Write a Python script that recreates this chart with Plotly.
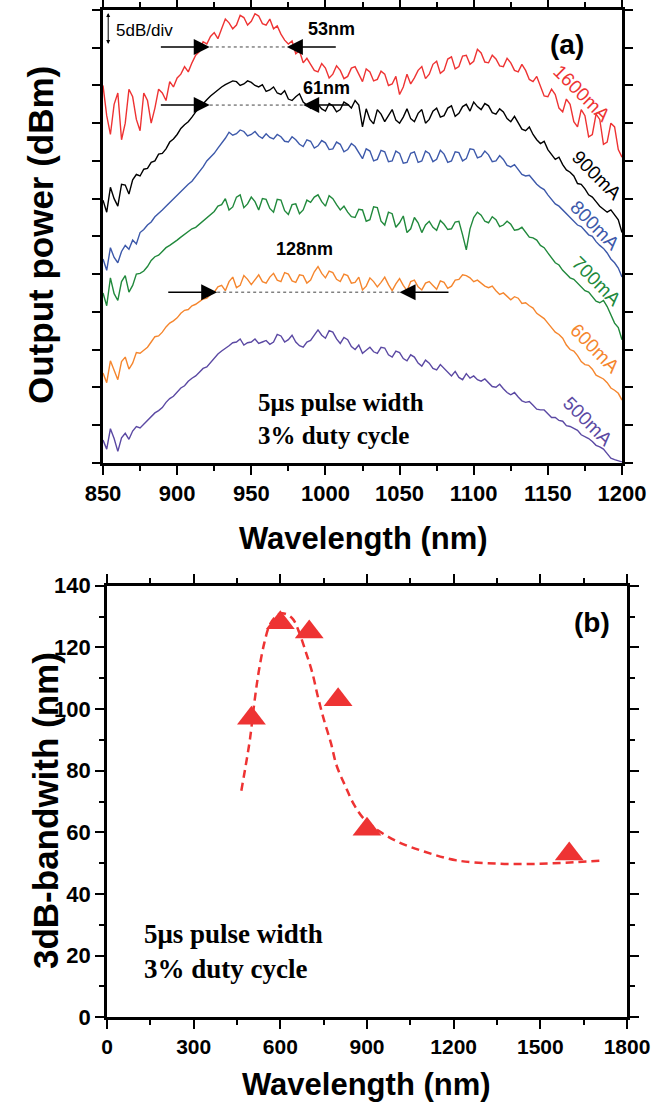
import plotly.graph_objects as go

# ---------------- data: panel (a) spectra (2.5 nm sampling) ----------------
wavelength_nm = [
    850, 852.5, 855, 857.5, 860, 862.5, 865, 867.5, 870, 872.5, 875, 877.5, 880, 882.5, 885, 887.5, 890, 892.5, 895, 897.5,
    900, 902.5, 905, 907.5, 910, 912.5, 915, 917.5, 920, 922.5, 925, 927.5, 930, 932.5, 935, 937.5, 940, 942.5, 945, 947.5,
    950, 952.5, 955, 957.5, 960, 962.5, 965, 967.5, 970, 972.5, 975, 977.5, 980, 982.5, 985, 987.5, 990, 992.5, 995, 997.5,
    1000, 1002.5, 1005, 1007.5, 1010, 1012.5, 1015, 1017.5, 1020, 1022.5, 1025, 1027.5, 1030, 1032.5, 1035, 1037.5, 1040, 1042.5, 1045, 1047.5,
    1050, 1052.5, 1055, 1057.5, 1060, 1062.5, 1065, 1067.5, 1070, 1072.5, 1075, 1077.5, 1080, 1082.5, 1085, 1087.5, 1090, 1092.5, 1095, 1097.5,
    1100, 1102.5, 1105, 1107.5, 1110, 1112.5, 1115, 1117.5, 1120, 1122.5, 1125, 1127.5, 1130, 1132.5, 1135, 1137.5, 1140, 1142.5, 1145, 1147.5,
    1150, 1152.5, 1155, 1157.5, 1160, 1162.5, 1165, 1167.5, 1170, 1172.5, 1175, 1177.5, 1180, 1182.5, 1185, 1187.5, 1190, 1192.5, 1195, 1197.5,
    1200]

p500 = [
    3.0, 1.8, 4.5, 3.2, 1.5, 3.3, 3.9, 3.1, 4.2, 4.8, 4.6, 5.1, 5.5, 6.1, 6.6, 6.9, 7.3, 8.0, 8.5, 8.8,
    9.3, 9.9, 10.2, 10.8, 11.2, 11.5, 12.0, 12.5, 12.7, 13.3, 13.8, 14.4, 14.8, 15.1, 15.5, 15.9, 16.0, 16.4, 15.6, 15.9,
    16.0, 16.4, 15.8, 16.0, 16.2, 15.7, 16.0, 17.0, 16.8, 16.0, 16.3, 16.9, 16.0, 15.5, 15.3, 16.0, 16.2, 16.9, 17.6, 16.9,
    16.5, 17.5, 17.3, 16.4, 15.8, 16.6, 16.3, 15.4, 15.0, 15.6, 14.5, 14.9, 15.3, 14.7, 14.5, 15.3, 15.2, 14.3, 14.0, 14.8,
    14.6, 13.8, 13.5, 14.3, 14.0, 13.2, 12.8, 13.6, 13.2, 12.5, 12.3, 13.0, 12.5, 11.9, 11.5, 12.1, 11.3, 11.0, 11.8, 11.2,
    11.5, 11.0, 10.8, 11.1, 10.6, 10.1, 10.0, 10.4, 9.8, 9.3, 9.0, 9.3, 8.7, 8.2, 8.0, 8.1, 7.6, 7.1, 7.0, 7.0,
    6.5, 6.0, 6.0, 5.6, 5.5, 4.9, 4.8, 4.6, 4.3, 3.7, 3.5, 3.2, 2.8, 2.3, 2.1, 1.8, 1.2, 0.6, 0.4, 0.3,
    0.1]

p600 = [
    11.9, 10.6, 13.5, 12.2, 11.0, 13.4, 14.0, 12.4, 13.2, 14.6, 14.5, 14.9, 15.3, 16.0, 16.7, 16.8, 17.3, 18.0, 18.5, 18.8,
    19.2, 19.8, 20.2, 20.3, 20.8, 21.0, 21.3, 21.7, 21.8, 22.3, 22.6, 23.3, 23.5, 22.8, 24.0, 24.6, 23.2, 23.5, 24.8, 24.3,
    23.6, 24.3, 24.9, 24.0, 23.8, 24.6, 25.1, 24.2, 24.0, 25.2, 25.0, 24.1, 23.9, 24.9, 24.8, 23.8, 24.2, 25.3, 26.0, 25.1,
    24.5, 25.4, 25.2, 24.3, 24.0, 25.0, 24.8, 23.8, 23.9, 24.6, 22.9, 23.4, 24.5, 24.0, 23.3, 23.9, 24.6, 23.6, 22.8, 23.7,
    24.4, 23.5, 22.8, 24.0, 24.2, 23.3, 22.9, 23.8, 24.0, 23.5, 23.0, 24.1, 23.9, 23.1, 23.4, 24.2, 24.3, 24.9, 24.8, 24.5,
    24.0, 24.2, 23.8, 23.4, 23.2, 23.4, 22.8, 22.3, 22.5, 22.0, 21.6, 22.0, 21.8, 21.1, 21.2, 20.8, 20.5, 19.8, 19.5, 19.1,
    18.5, 17.9, 17.3, 17.0, 16.5, 15.6, 15.0, 14.8, 14.2, 13.4, 13.0, 12.9, 12.4, 11.6, 11.4, 11.1, 10.6, 9.9, 9.6, 9.2,
    8.3]

p700 = [
    22.5, 20.8, 24.5, 22.4, 21.5, 24.0, 24.8, 22.6, 23.5, 25.0, 25.1, 25.4, 26.0, 26.8, 27.3, 27.5, 28.0, 28.5, 28.8, 29.1,
    29.5, 29.9, 30.3, 30.6, 31.0, 31.2, 31.6, 32.1, 32.4, 32.9, 33.3, 34.0, 34.2, 35.0, 33.5, 33.9, 35.2, 35.5, 33.8, 34.3,
    35.2, 34.6, 33.5, 35.0, 34.9, 33.7, 33.2, 34.9, 34.8, 33.4, 32.9, 34.2, 34.3, 33.0, 33.5, 34.8, 34.5, 35.2, 35.5, 34.6,
    34.0, 35.4, 35.0, 34.2, 33.5, 34.0, 33.2, 32.6, 32.5, 33.6, 33.5, 32.0, 32.2, 33.9, 33.8, 32.0, 31.5, 33.2, 33.0, 31.2,
    31.8, 32.7, 30.5, 31.0, 32.5, 31.8, 30.5, 31.5, 32.0, 31.2, 30.8, 32.1, 31.6, 30.9, 31.0, 31.9, 32.0, 30.2, 28.2, 31.0,
    32.5, 33.2, 32.8, 32.0, 31.8, 32.6, 32.2, 31.3, 31.5, 32.0, 31.6, 30.8, 30.9, 31.2, 30.5, 29.9, 29.8, 29.5, 28.8, 28.5,
    27.8, 27.2, 26.5, 26.2, 25.5, 25.0, 24.5, 24.3, 23.8, 23.2, 22.8, 22.6, 22.0, 21.4, 21.2, 21.5, 20.7, 19.6, 18.5, 17.9,
    16.3]

p800 = [
    27.0, 25.5, 28.5, 27.2, 26.5, 28.0, 28.8, 28.3, 29.5, 29.0, 30.5, 30.9, 31.5, 31.9, 32.6, 33.0, 33.5, 34.0, 34.5, 35.0,
    35.5, 36.0, 36.5, 36.9, 37.3, 37.9, 38.5, 39.2, 40.0, 40.5, 41.0, 41.7, 42.3, 43.0, 43.8, 43.4, 43.6, 44.1, 43.9, 43.3,
    43.5, 43.9, 43.3, 43.0, 43.6, 43.1, 42.9, 43.5, 43.2, 42.6, 42.5, 43.2, 42.8, 42.2, 41.9, 42.8, 42.6, 41.7, 42.0, 42.7,
    42.4, 41.5, 41.6, 42.5, 42.2, 41.2, 41.5, 42.3, 41.9, 41.0, 40.3, 41.6, 41.3, 40.0, 40.2, 41.4, 41.2, 39.9, 40.0, 41.3,
    41.0, 39.7, 39.8, 41.0, 41.2, 39.8, 40.0, 41.3, 41.0, 39.9, 40.2, 41.4, 40.9, 39.8, 40.0, 41.2, 41.1, 40.0, 40.3, 41.6,
    41.5, 40.4, 40.6, 41.3, 40.8, 39.9, 40.0, 40.7, 40.2, 39.4, 39.2, 39.5, 38.9, 38.2, 38.0, 38.1, 37.5, 36.9, 36.5, 36.2,
    35.5, 34.9, 34.3, 34.0, 33.5, 32.9, 32.5, 32.0, 31.5, 31.3, 30.8, 30.2, 30.0, 29.3, 28.8, 28.4, 27.8, 27.0, 26.5, 25.8,
    24.6]

p900 = [
    34.8, 33.2, 36.5, 35.0, 34.0, 36.9, 36.8, 35.6, 37.5, 38.2, 38.0, 38.9, 39.0, 39.8, 40.0, 40.9, 41.0, 41.6, 42.5, 42.9,
    43.5, 44.3, 44.8, 45.2, 45.8, 46.5, 47.0, 47.6, 48.1, 48.6, 49.0, 49.5, 49.8, 50.1, 50.3, 50.6, 50.5, 50.0, 50.2, 50.6,
    50.4, 50.0, 49.8, 50.1, 49.2, 49.4, 49.8, 49.0, 48.8, 49.3, 48.2, 48.0, 48.5, 48.9, 47.8, 47.4, 47.0, 47.9, 47.5, 46.9,
    46.6, 47.6, 47.3, 46.5, 46.8, 47.8, 47.5, 47.0, 48.0, 47.4, 44.5, 46.9, 45.5, 44.9, 46.8, 46.2, 45.2, 46.0, 46.8, 45.4,
    45.0, 45.8, 46.9, 45.6, 45.2, 46.3, 46.8, 45.0, 45.5, 46.6, 47.0, 45.8, 46.0, 47.0, 47.3, 45.9, 46.3, 47.2, 47.5, 46.6,
    47.8, 47.2, 46.8, 47.6, 47.3, 46.4, 46.2, 46.9, 46.5, 45.6, 45.2, 45.9, 45.0, 44.2, 44.0, 44.5, 43.5, 42.8, 42.3, 42.6,
    41.5, 40.8, 40.2, 40.5, 39.5, 38.8, 38.5, 38.0, 37.0, 36.9, 36.3, 35.5, 35.2, 34.6, 34.0, 33.6, 33.2, 33.5, 32.8, 32.2,
    30.5]

p1600 = [
    50.0, 46.0, 43.5, 47.5, 49.0, 42.8, 45.0, 49.5, 48.5, 45.5, 44.0, 49.0, 48.0, 45.0, 47.0, 49.5, 49.0, 48.0, 50.5, 49.8,
    51.0, 51.5, 52.5, 51.8, 53.0, 54.0, 54.5, 55.8, 55.5, 56.5, 57.0, 56.2, 57.5, 58.8, 58.3, 57.5, 58.0, 59.3, 59.0, 58.0,
    58.5, 59.5, 59.2, 58.2, 58.0, 58.8, 57.5, 57.9, 56.8, 56.0, 55.5, 55.9, 54.2, 54.6, 53.0, 53.6, 52.8, 52.0, 51.8, 52.9,
    52.3, 51.0, 51.5, 52.6, 52.0, 50.9, 51.2, 52.3, 52.5, 51.6, 50.5, 52.2, 51.8, 50.6, 50.8, 51.9, 51.5, 50.0, 50.2, 51.2,
    48.8, 49.8, 51.5, 50.2, 51.0, 52.0, 52.5, 50.9, 51.5, 52.8, 53.2, 51.6, 52.0, 53.5, 53.8, 52.2, 52.5, 53.9, 54.0, 52.8,
    53.2, 54.8, 54.3, 53.1, 53.0, 54.0, 53.5, 52.6, 52.5, 53.6, 53.0, 52.0, 51.8, 52.8, 52.0, 50.8, 50.5, 51.2, 50.0, 48.6,
    48.5, 49.5, 48.8, 47.0, 46.5, 48.2, 47.5, 45.2, 44.5, 46.8, 46.0, 43.2, 43.5, 46.2, 45.5, 42.2, 42.5, 45.0, 44.5, 41.5,
    40.5]

series_names = ["500mA", "600mA", "700mA", "800mA", "900mA", "1600mA"]
series_values = [p500, p600, p700, p800, p900, p1600]
series_colors = ["#5b49a3", "#f5862e", "#21893c", "#3d59aa", "#000000", "#ee3333"]
label_x = [1177, 1182, 1183, 1182, 1183, 1173]
label_y = [5.4, 15.2, 24.0, 31.5, 38.0, 48.9]

x_ticks_a = [850, 900, 950, 1000, 1050, 1100, 1150, 1200]
x_ticks_b = [0, 300, 600, 900, 1200, 1500, 1800]
y_ticks_b = [0, 20, 40, 60, 80, 100, 120, 140]

# ---------------- data: panel (b) bandwidth ----------------
current_mA = [500, 600, 700, 800, 900, 1600]
bandwidth_nm = [97, 128, 125, 103, 61, 53]
fit_x = [465, 480, 495, 510, 525, 545, 565, 595, 620, 645, 665, 690, 710, 730,
         750, 775, 795, 825, 855, 890, 940, 1010, 1100, 1210, 1360, 1500, 1620, 1720]
fit_y = [73.5, 81.6, 90.3, 102, 112, 121.6, 127.6, 130.8, 130.8, 129, 124.9, 118,
         112, 104, 96.8, 89, 81.6, 75, 69, 64.3, 60.5, 56.8, 53.7, 50.9, 49.8, 49.8,
         50.3, 50.9]

RED = "#ee3333"
W, H = 651, 1111
SANS = "Liberation Sans, Arial, sans-serif"
SERIF = "Liberation Serif, Times New Roman, serif"


def bold(vals):
    return ["<b>%d</b>" % v for v in vals]


fig = go.Figure()

for name, vals, col in zip(series_names, series_values, series_colors):
    fig.add_trace(go.Scatter(x=wavelength_nm, y=vals, mode="lines", name=name,
                             line=dict(color=col, width=1.4),
                             xaxis="x", yaxis="y", showlegend=False))

fig.add_trace(go.Scatter(x=fit_x, y=fit_y, mode="lines", line_shape="spline",
                         line=dict(color=RED, width=2.5, dash="8px,5px"),
                         xaxis="x2", yaxis="y2", showlegend=False))
fig.add_trace(go.Scatter(x=current_mA, y=bandwidth_nm, mode="markers",
                         marker=dict(symbol="triangle-up", size=25, color=RED),
                         xaxis="x2", yaxis="y2", showlegend=False))

axis_common = dict(showline=True, linewidth=2.7, linecolor="black", mirror="ticks",
                   ticks="outside", tickwidth=2, tickcolor="black", showgrid=False,
                   zeroline=False, tickmode="array", automargin=False)
minor_common = dict(ticks="outside", ticklen=5, tickwidth=2, tickcolor="black")


def tfont(size):
    return dict(family=SANS, size=size, color="black")


fig.update_layout(
    width=W, height=H, autosize=False,
    margin=dict(l=0, r=0, t=0, b=0, pad=0, autoexpand=False),
    paper_bgcolor="white", plot_bgcolor="white",
    xaxis=dict(domain=[103 / W, 622 / W], range=[850, 1200], anchor="y",
               tickvals=x_ticks_a, ticktext=bold(x_ticks_a), ticklen=9, tickfont=tfont(22),
               minor=dict(dtick=25, **minor_common), **axis_common),
    yaxis=dict(domain=[1 - 462.7 / H, 1 - 10 / H], range=[0, 60], anchor="x",
               tickvals=[0, 5, 10, 15, 20, 25, 30, 35, 40, 45, 50, 55, 60],
               ticklen=8, showticklabels=False, **axis_common),
    xaxis2=dict(domain=[107 / W, 627 / W], range=[0, 1800], anchor="y2",
                tickvals=x_ticks_b, ticktext=bold(x_ticks_b), ticklen=9, tickfont=tfont(21),
                minor=dict(dtick=150, **minor_common), **axis_common),
    yaxis2=dict(domain=[1 - 1017.3 / H, 1 - 585.7 / H], range=[0, 140], anchor="x2",
                tickvals=y_ticks_b, ticktext=bold(y_ticks_b), ticklen=9, tickfont=tfont(22),
                minor=dict(dtick=10, **minor_common), **axis_common),
)

ann = []


def paper_text(text, px, py, size, family=SANS, angle=0, xanchor="center", color="black", align="center"):
    ann.append(dict(text=text, x=px / W, y=1 - py / H, xref="paper", yref="paper",
                    xanchor=xanchor, yanchor="middle", align=align, showarrow=False,
                    textangle=angle, font=dict(family=family, size=size, color=color)))


# axis titles
paper_text("<b>Wavelength (nm)</b>", 364, 538, 31)
paper_text("<b>Output power (dBm)</b>", 41, 235, 35, angle=-90)
paper_text("<b>Wavelength (nm)</b>", 366, 1084, 31)
paper_text("<b>3dB-bandwith (nm)</b>", 45, 811, 35, angle=-90)

# series labels
for name, col, lx, ly in zip(series_names, series_colors, label_x, label_y):
    ann.append(dict(text=name, x=lx, y=ly, xref="x", yref="y", showarrow=False, textangle=45,
                    xanchor="center", yanchor="middle",
                    font=dict(family=SANS, size=19, color=col)))

# panel letters
ann.append(dict(text="<b>(a)</b>", x=1163, y=55.4, xref="x", yref="y", showarrow=False,
                xanchor="center", yanchor="middle",
                font=dict(family=SANS, size=28, color="black")))
ann.append(dict(text="<b>(b)</b>", x=1679, y=128, xref="x2", yref="y2", showarrow=False,
                xanchor="center", yanchor="middle",
                font=dict(family=SANS, size=28, color="black")))

# pulse notes
note = "<b>5μs pulse width<br>3% duty cycle</b>"
paper_text(note, 256, 419, 25, family=SERIF, xanchor="left", align="left")
paper_text(note, 142, 951, 27, family=SERIF, xanchor="left", align="left")

# bandwidth markers (arrows + dotted lines)
bw_marks = [  # (y, left tail, left tip, right tip, right tail, label, label_x, label_y)
    (55.1, 888, 922, 974, 1008, "53nm", 1004, 57.5),
    (47.4, 888, 922, 985, 1017, "61nm", 1001, 49.6),
    (22.6, 893, 927, 1050, 1084, "128nm", 986, 28.3),
]
shapes = []
for yy, lt, lp, rp, rt, lab, lbx, lby in bw_marks:
    for tip, tail in ((lp, lt), (rp, rt)):
        ann.append(dict(x=tip, y=yy, ax=tail, ay=yy, xref="x", yref="y", axref="x", ayref="y",
                        text="", showarrow=True, arrowhead=2, arrowsize=2, arrowwidth=1.6,
                        arrowcolor="black"))
    shapes.append(dict(type="line", xref="x", yref="y", x0=lp, x1=rp, y0=yy, y1=yy,
                       line=dict(color="#444", width=1, dash="dot")))
    ann.append(dict(text="<b>" + lab + "</b>", x=lbx, y=lby, xref="x", yref="y", showarrow=False,
                    xanchor="center", yanchor="middle",
                    font=dict(family=SANS, size=18, color="black")))

# 5dB/div scale arrow
ann.append(dict(x=853.5, y=59.6, ax=853.5, ay=55.3, xref="x", yref="y", axref="x", ayref="y",
                text="", showarrow=True, arrowhead=2, arrowside="end+start", arrowsize=0.8,
                arrowwidth=1, arrowcolor="black"))
paper_text("5dB/div", 114, 30, 17, xanchor="left")

fig.update_layout(annotations=ann, shapes=shapes)
fig.write_html("out.html")
